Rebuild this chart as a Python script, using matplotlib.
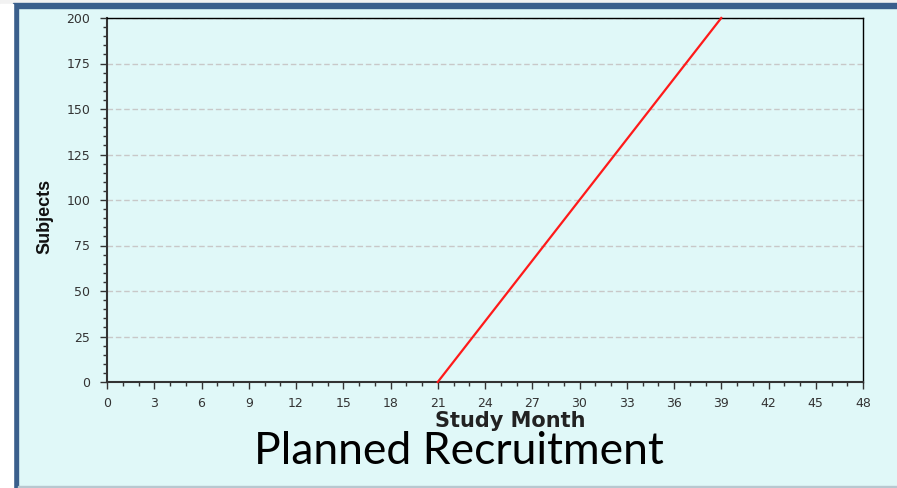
import matplotlib
matplotlib.use("Agg")
import matplotlib.pyplot as plt
from matplotlib.patches import Rectangle
from matplotlib.ticker import MultipleLocator

months = [21, 39]
subjects = [0, 200]
x_ticks = list(range(0, 49, 3))
y_ticks = list(range(0, 201, 25))

W, H = 897, 488
fig = plt.figure(figsize=(W/100, H/100), dpi=100)
fig.patch.set_facecolor("#E0F8F8")

# frame decorations
fig.add_artist(Rectangle((0, 1-4/H), 1, 4/H, transform=fig.transFigure, color="#F2F2F2", zorder=0))
fig.add_artist(Rectangle((13/W, 1-8/H), 1, 5/H, transform=fig.transFigure, color="#3A5F8C", zorder=1))
fig.add_artist(Rectangle((13/W, 0), 5/W, 1-4/H, transform=fig.transFigure, color="#3A5F8C", zorder=1))
fig.add_artist(Rectangle((0, 0), 13/W, 1-4/H, transform=fig.transFigure, color="#FFFFFF", zorder=1))
fig.add_artist(Rectangle((18/W, 0), 1, 2/H, transform=fig.transFigure, color="#B8C8D0", zorder=1))

ax = fig.add_axes([107/W, 1-382/H, (863-107)/W, (382-18)/H])
ax.set_facecolor("#E0F8F8")
ax.plot(months, subjects, color="#FF1A1A", lw=1.6, zorder=3, clip_on=False)
ax.set_xlim(0, 48)
ax.set_ylim(0, 200)
ax.set_xticks(x_ticks)
ax.set_yticks(y_ticks)
ax.xaxis.set_minor_locator(MultipleLocator(1))
ax.yaxis.set_minor_locator(MultipleLocator(5))
ax.tick_params(which="major", length=5, width=1, color="#333333", labelsize=9, labelcolor="#333333", direction="out")
ax.tick_params(which="minor", length=3, width=1, color="#333333", direction="out")
ax.tick_params(axis="x", pad=6)
ax.tick_params(axis="y", pad=7)
for lab in ax.get_xticklabels() + ax.get_yticklabels():
    lab.set_family("DejaVu Sans")
for s in ["top", "right"]:
    ax.spines[s].set_color("black")
    ax.spines[s].set_linewidth(1)
for s in ["left", "bottom"]:
    ax.spines[s].set_color("#333333")
    ax.spines[s].set_linewidth(1.5)
ax.yaxis.grid(True, which="major", linestyle=(0, (4, 2)), color="#C8C8C8", lw=1)
ax.set_axisbelow(True)

ax.set_xlabel("Study Month", fontsize=15, fontweight="bold", family="DejaVu Sans", color="#222222")
ax.xaxis.set_label_coords((510 - 107)/(863-107), (382 - 411)/(382-18))
ax.xaxis.label.set_va("top")
ax.set_ylabel("Subjects", fontsize=13, fontweight="bold", family="Liberation Sans", color="#111111", labelpad=0)
ax.yaxis.set_label_coords((53 - 107)/(863-107), (382 - 216)/(382-18))

fig.text(459/W, 1-452/H, "Planned Recruitment", fontsize=32, family="Lato", ha="center", va="center", color="black")

fig.savefig("out.png", dpi=100, facecolor=fig.get_facecolor())
